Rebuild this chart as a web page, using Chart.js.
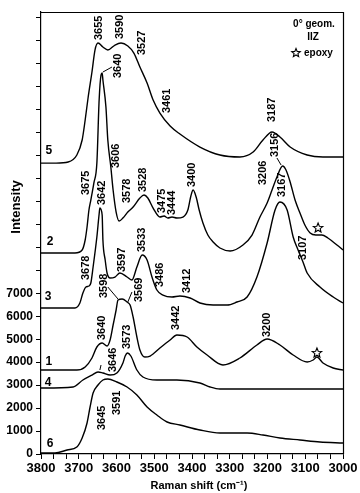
<!DOCTYPE html>
<html><head><meta charset="utf-8">
<script src="https://cdn.jsdelivr.net/npm/chart.js@4.4.1/dist/chart.umd.min.js"></script>
<style>html,body{margin:0;padding:0;background:#fff}#wrap{width:360px;height:493px}</style>
</head><body><div id="wrap"><canvas id="c" width="360" height="493"></canvas></div>
<script>
// ---- data (Raman shift in cm-1, intensity in counts incl. stacking offset) ----
const shift5 = [3800,3760,3728,3705,3691,3683,3675,3665,3657,3649,3636,3623,3604,3588,3570,3554,3538,3519,3503,3485,3458,3432,3379,3326,3273,3238,3212,3188,3167,3140,3095,3053,3000];
const int5   = [12670,12670,12716,13022,13675,14546,15547,16636,17594,17899,17725,17594,17812,17899,17768,17463,16854,16157,15417,14850,14284,13936,13370,13022,12935,13152,13675,14023,13805,13370,13022,12935,12935];

const shift2 = [3800,3710,3691,3683,3678,3673,3668,3660,3652,3646,3641,3638,3636,3628,3623,3615,3609,3601,3593,3583,3570,3556,3538,3527,3517,3503,3485,3474,3464,3453,3440,3424,3411,3403,3397,3389,3381,3371,3358,3344,3326,3299,3265,3241,3220,3201,3188,3175,3160,3151,3140,3127,3114,3101,3087,3072,3056,3040,3016,3000];
const int2   = [8754,8754,8884,9320,9886,10626,11062,11802,12673,15417,16505,16593,16288,15112,13675,12499,11497,10539,10147,10278,10539,10757,11149,11279,11149,10713,10321,10365,10278,10321,10278,10321,10626,11236,11497,11192,10626,10060,9537,9233,8971,8841,9102,9537,10321,10931,11497,12063,12542,12368,11846,11062,10496,9973,9625,9538,9538,9407,9102,8884];

const shift3 = [3800,3710,3697,3689,3681,3673,3668,3662,3652,3646,3644,3638,3636,3630,3625,3617,3604,3591,3572,3559,3546,3532,3519,3506,3493,3477,3453,3432,3405,3379,3344,3307,3281,3254,3228,3201,3180,3167,3148,3132,3119,3106,3095,3061,3026,3000];
const int3   = [6358,6358,6576,7012,7273,7316,7447,8144,9450,10452,10713,10408,9320,8449,7883,7665,7708,7883,7708,7578,8144,8666,8449,7708,7142,6924,6837,6881,6794,6576,6489,6489,6620,6837,7708,9189,10626,10974,10626,9450,8884,8362,7883,7273,6837,6576];

const shift1 = [3800,3705,3683,3665,3652,3638,3625,3617,3609,3601,3596,3585,3572,3564,3556,3546,3538,3525,3511,3485,3458,3440,3413,3387,3360,3318,3273,3228,3201,3167,3132,3095,3079,3069,3053,3026,3000];
const int1   = [3658,3658,3789,4181,4660,4834,4703,4965,5618,6271,6707,6750,6620,6489,5966,5095,4529,4224,4268,4616,4965,5182,5095,4660,4311,3876,4181,4747,5008,4747,4311,4007,4094,4224,3963,3745,3658];

const shift4 = [3800,3715,3689,3665,3649,3636,3617,3599,3583,3577,3571,3562,3546,3530,3493,3440,3379,3352,3326,3000];
const int4   = [2874,2918,3223,3440,3571,3528,3440,3528,3963,4268,4399,4268,3658,3353,3223,3223,3092,2918,2831,2831];

const shift6 = [3800,3763,3731,3705,3691,3678,3670,3662,3649,3636,3623,3599,3572,3546,3519,3493,3466,3432,3379,3326,3254,3212,3167,3114,3061,3000];
const int6   = [44,44,174,305,697,1350,2047,2657,3005,3223,3266,3136,2918,2569,2047,1698,1394,1263,1045,915,915,827,697,610,523,479];

// peak annotations (text, position of the label's lower end)
const peakText = ['3655','3590','3527','3640','3461','3187','3606','3675','3642','3578','3528','3475','3444','3400','3206','3156','3167','3107','3678','3597','3533','3486','3412','3598','3569','3640','3573','3646','3442','3200','3645','3591'];
const peakX    = [3646,3591,3532,3596,3466,3188,3601,3681,3638,3572,3530,3479,3453,3400,3212,3180,3162,3106,3681,3585,3532,3485,3413,3633,3540,3638,3572,3609,3442,3201,3638,3599];
const peakY    = [18030,18073,17376,16375,14851,14459,12455,11279,10844,10931,11410,10496,10408,11628,11715,12934,11192,8449,7578,7926,8797,7273,7012,6794,6620,4965,4573,3571,5400,5095,1045,1698];

// leader lines
const leadX1 = [3636,3175,3623,3559,3641];
const leadY1 = [16636,12891,7273,7055,3876];
const leadX2 = [3612,3164,3596,3570,3644];
const leadY2 = [16854,12586,6750,6620,3658];

// curve numbers
const numText = ['5','2','3','1','4','6'];
const numX    = [3779,3776,3781,3779,3781,3776];
const numY    = [13196,9233,6837,4007,3092,436];

// epoxy stars
const starX = [3066,3069];
const starY = [9842,4399];

// axis ticks
const xTickValues = [];
for (let i = 0; i <= 24; i++) xTickValues.push(3000 + i * 100 / 3);
const yTickValues = [];
for (let v = 0; v <= 19000; v += 1000) yTickValues.push(v);
const yLabelMax = 7000;

const FONT = "'Liberation Sans', Arial, sans-serif";

function series(xs, ys) { return xs.map((x, i) => ({x: x, y: ys[i]})); }
const curves = [[shift5,int5],[shift2,int2],[shift3,int3],[shift1,int1],[shift4,int4],[shift6,int6]];

function drawStar(ctx, cx, cy, R, r) {
  ctx.beginPath();
  for (let i = 0; i < 10; i++) {
    const ang = -Math.PI / 2 + i * Math.PI / 5;
    const rad = i % 2 === 0 ? R : r;
    const px = cx + rad * Math.cos(ang), py = cy + rad * Math.sin(ang);
    if (i === 0) ctx.moveTo(px, py); else ctx.lineTo(px, py);
  }
  ctx.closePath();
  ctx.stroke();
}

const annot = {
  id: 'annot',
  afterDraw(chart) {
    const {ctx, chartArea: a, scales: {x, y}} = chart;
    ctx.save();
    ctx.strokeStyle = '#000';
    ctx.fillStyle = '#000';
    ctx.lineWidth = 1.2;
    // frame top + right
    ctx.beginPath();
    ctx.moveTo(a.left, a.top + 0.5); ctx.lineTo(a.right + 0.5, a.top + 0.5); ctx.lineTo(a.right + 0.5, a.bottom);
    ctx.stroke();
    // peak labels
    ctx.font = 'bold 11px ' + FONT;
    ctx.textAlign = 'left'; ctx.textBaseline = 'middle';
    peakText.forEach((t, i) => {
      ctx.save();
      ctx.translate(x.getPixelForValue(peakX[i]), y.getPixelForValue(peakY[i]));
      ctx.rotate(-Math.PI / 2);
      ctx.fillText(t, 0, 0);
      ctx.restore();
    });
    // leaders
    ctx.lineWidth = 1;
    leadX1.forEach((v, i) => {
      ctx.beginPath();
      ctx.moveTo(x.getPixelForValue(v), y.getPixelForValue(leadY1[i]));
      ctx.lineTo(x.getPixelForValue(leadX2[i]), y.getPixelForValue(leadY2[i]));
      ctx.stroke();
    });
    // curve numbers
    ctx.font = 'bold 12px ' + FONT;
    ctx.textAlign = 'center';
    numText.forEach((t, i) => ctx.fillText(t, x.getPixelForValue(numX[i]), y.getPixelForValue(numY[i])));
    // stars
    ctx.lineWidth = 1.1;
    starX.forEach((v, i) => drawStar(ctx, x.getPixelForValue(v), y.getPixelForValue(starY[i]), 5, 2.2));
    // legend
    ctx.font = 'bold 10px ' + FONT;
    ctx.textAlign = 'center';
    ctx.fillText('0\u00B0 geom.', 314, 24);
    ctx.fillText('IIZ', 313, 37);
    drawStar(ctx, 296, 53, 4.5, 2);
    ctx.textAlign = 'left';
    ctx.fillText('epoxy', 304, 53);
    // axis titles
    ctx.font = 'bold 13px ' + FONT;
    ctx.textAlign = 'center';
    ctx.save();
    ctx.translate(16, 207);
    ctx.rotate(-Math.PI / 2);
    ctx.fillText('Intensity', 0, 0);
    ctx.restore();
    ctx.font = 'bold 11px ' + FONT;
    ctx.fillText('Raman shift (cm\u207B\u00B9)', 199, 486);
    ctx.restore();
  }
};

new Chart(document.getElementById('c'), {
  type: 'line',
  data: {
    datasets: curves.map(c => ({
      data: series(c[0], c[1]),
      borderColor: '#000',
      borderWidth: 1.4,
      pointRadius: 0,
      fill: false,
      cubicInterpolationMode: 'monotone'
    }))
  },
  options: {
    responsive: false,
    devicePixelRatio: 1,
    animation: false,
    layout: {padding: {top: 12, right: 17, left: 0, bottom: 0}},
    plugins: {legend: {display: false}, tooltip: {enabled: false}},
    scales: {
      x: {
        type: 'linear', min: 3000, max: 3800, reverse: true,
        afterBuildTicks: s => { s.ticks = xTickValues.map(v => ({value: v})); },
        afterFit: s => { s.height = 39; },
        ticks: {
          autoSkip: false, maxRotation: 0, padding: 2, color: '#000',
          font: {family: "'Liberation Sans Narrow', 'Liberation Sans', Arial", weight: 'bold', size: 13},
          callback: v => (Math.abs(v % 100) < 0.01 ? String(Math.round(v)) : '')
        },
        grid: {display: true, drawOnChartArea: false, drawTicks: true, tickLength: 5, color: '#000', lineWidth: 1},
        border: {display: true, color: '#000', width: 1.2}
      },
      y: {
        type: 'linear', min: 0, max: 19250,
        afterBuildTicks: s => { s.ticks = yTickValues.map(v => ({value: v})); },
        afterFit: s => { s.width = 41; },
        ticks: {
          autoSkip: false, padding: 3, color: '#000',
          font: {family: FONT, weight: 'bold', size: 12},
          callback: v => (v <= yLabelMax ? String(v) : '')
        },
        grid: {display: true, drawOnChartArea: false, drawTicks: true, tickLength: 5, color: '#000', lineWidth: 1},
        border: {display: true, color: '#000', width: 1.2}
      }
    }
  },
  plugins: [annot]
});
</script>
</body></html>
